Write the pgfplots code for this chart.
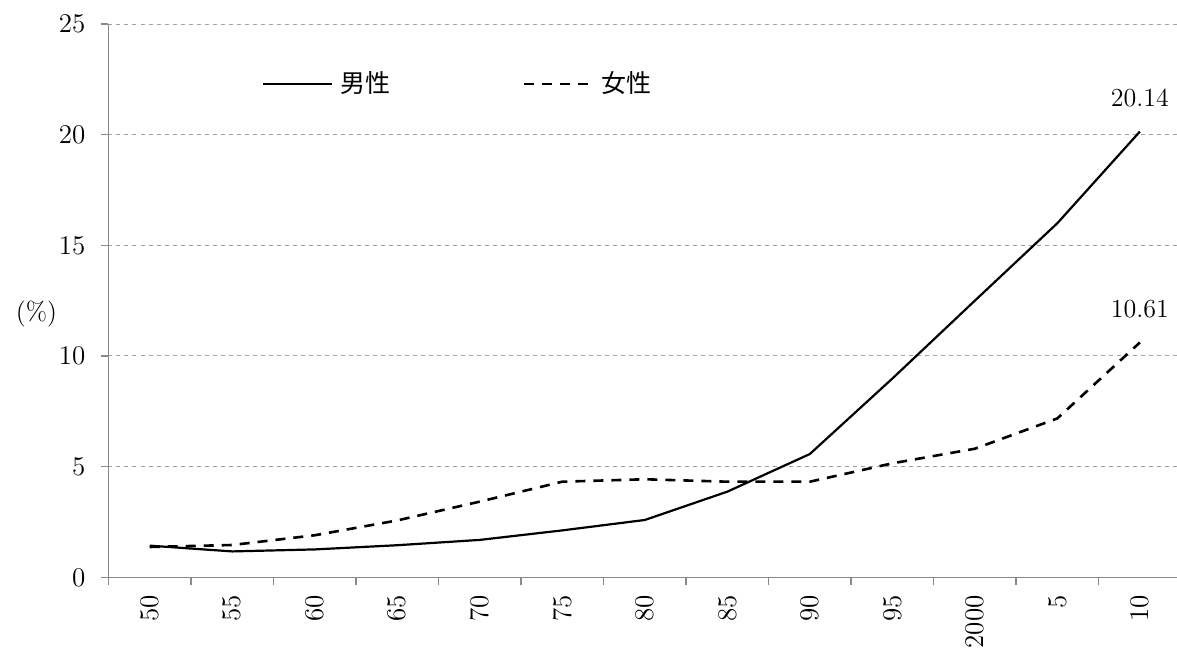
\documentclass[border=0pt]{standalone}
\usepackage{fontspec}
\usepackage{pgfplots}
\pgfplotsset{compat=1.18}
\newfontfamily\cjk{Noto Sans CJK JP}
\definecolor{axisgray}{RGB}{137,137,137}
\definecolor{gridgray}{RGB}{160,160,160}
\begin{document}
\begin{tikzpicture}[font=\fontsize{13}{15}\selectfont]
\begin{axis}[
  scale only axis, width=534.25pt, height=276.65pt,
  xmin=-0.5, xmax=12.45, ymin=0, ymax=25,
  clip=false,
  /pgf/number format/assume math mode=true,
  tick label style={font=\fontsize{13.5}{15}\selectfont},
  axis lines=left, axis line style={axisgray, line width=0.8pt, -},
  ytick={0,5,...,25},
  ymajorgrids, major grid style={gridgray, dash pattern=on 2pt off 2pt, line width=0.5pt},
  xtick={0,...,12},
  xticklabels={50,55,60,65,70,75,80,85,90,95,2000,5,10},
  minor xtick={-0.5,0.5,...,11.5},
  tick align=outside,
  major tick length=4pt, minor tick length=4pt,
  major x tick style={draw=none},
  minor x tick style={axisgray, line width=0.8pt},
  ytick style={axisgray, line width=0.8pt},
  xticklabel style={rotate=90, anchor=east},
  xticklabel shift=1.5pt,
  yticklabel shift=4pt,
  legend style={at={(axis description cs:0.1436,0.8916)}, anchor=west, draw=none, fill=none, inner sep=0pt,
    font=\fontsize{12.5}{14}\selectfont\cjk,
    /tikz/every even column/.append style={column sep=64pt}},
  legend columns=2,
  legend image code/.code={\draw[#1] (0pt,0pt) -- (34.5pt,0pt); \path (36pt,0pt);},
]
\addplot[black, line width=1.1pt] coordinates {
(0,1.43) (1,1.17) (2,1.26) (3,1.45) (4,1.69) (5,2.12) (6,2.59) (7,3.87) (8,5.57) (9,8.98) (10,12.5) (11,16.0) (12,20.14)};
\addlegendentry{男性}
\addplot[black, line width=1.3pt, dash pattern=on 5pt off 4pt] coordinates {
(0,1.37) (1,1.46) (2,1.90) (3,2.57) (4,3.42) (5,4.32) (6,4.43) (7,4.32) (8,4.32) (9,5.15) (10,5.81) (11,7.18) (12,10.61)};
\addlegendentry{女性}
\node[yshift=16.8pt] at (axis cs:12,20.14) {20.14};
\node[yshift=16.8pt] at (axis cs:12,10.61) {10.61};
\node at ([xshift=-36pt]axis description cs:0,0.476) {(\%)};
\end{axis}
\pgfresetboundingbox
\path[use as bounding box] ([shift={(-54.25pt,-38.85pt)}]current axis.south west) rectangle ([yshift=12pt]current axis.north east);
\end{tikzpicture}
\end{document}
